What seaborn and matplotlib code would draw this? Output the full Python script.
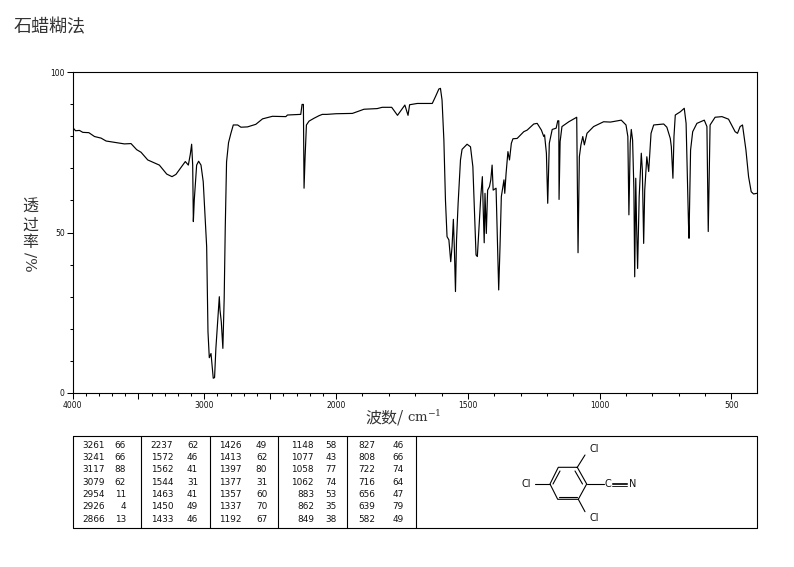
import numpy as np
import seaborn as sns
import matplotlib.pyplot as plt
from matplotlib.ticker import FixedLocator, FixedFormatter

# spectrum
wavenumber = [4000, 3977, 3947, 3922, 3876, 3833, 3783, 3745, 3649, 3606, 3556, 3513, 3480, 3429, 3341, 3285,
              3245, 3215, 3144, 3121, 3106, 3096, 3088, 3083, 3076, 3058, 3043, 3025, 3008, 2995, 2982, 2972,
              2962, 2949, 2939, 2932, 2922, 2912, 2897, 2886, 2881, 2871, 2859, 2849, 2841, 2831, 2816, 2798,
              2780, 2747, 2722, 2672, 2609, 2558, 2483, 2381, 2369, 2268, 2258, 2248, 2243, 2235, 2225, 2205,
              2167, 2129, 2104, 2070, 2000, 1938, 1894, 1844, 1825, 1789, 1767, 1739, 1727, 1721, 1692, 1635,
              1623, 1610, 1604, 1598, 1591, 1585, 1579, 1572, 1565, 1560, 1555, 1551, 1547, 1543, 1537, 1528,
              1522, 1503, 1490, 1481, 1474, 1469, 1464, 1459, 1451, 1445, 1442, 1438, 1435, 1430, 1425, 1418,
              1413, 1408, 1404, 1393, 1388, 1383, 1378, 1373, 1363, 1360, 1355, 1348, 1342, 1335, 1329, 1313,
              1288, 1275, 1250, 1237, 1221, 1212, 1209, 1202, 1197, 1191, 1180, 1165, 1159, 1155, 1154, 1150,
              1143, 1117, 1087, 1082, 1077, 1071, 1064, 1058, 1048, 1023, 985, 959, 918, 900, 893, 889,
              884, 880, 875, 870, 867, 863, 860, 856, 850, 842, 838, 833, 829, 821, 814, 805,
              795, 757, 745, 732, 728, 722, 718, 713, 694, 679, 672, 663, 661, 655, 647, 631,
              603, 593, 588, 581, 562, 536, 511, 486, 477, 467, 458, 445, 435, 425, 416, 404]
transmittance = [82.8, 81.7, 81.8, 81.2, 81.1, 79.9, 79.4, 78.5, 77.9, 77.6, 77.7, 75.8, 75.0, 72.6, 71.0, 68.2,
                 67.4, 68.1, 72.1, 71.0, 74.4, 77.5, 71.0, 53.4, 60.1, 71.0, 72.2, 71.0, 65.8, 55.5, 45.6, 19.1,
                 11.0, 12.3, 7.7, 4.6, 4.8, 13.9, 23.3, 30.0, 25.9, 22.2, 13.9, 29.5, 51.3, 72.0, 78.0, 80.9,
                 83.5, 83.5, 82.8, 82.9, 83.7, 85.4, 86.2, 86.1, 86.6, 86.8, 89.9, 89.9, 63.8, 73.6, 83.5, 84.7,
                 85.6, 86.4, 86.8, 86.8, 87.0, 87.1, 88.4, 88.6, 89.0, 89.0, 86.5, 89.7, 86.5, 89.8, 90.2, 90.2,
                 92.3, 94.7, 94.9, 91.3, 78.8, 60.1, 48.7, 47.7, 40.9, 45.6, 54.1, 44.5, 31.6, 47.7, 59.0, 72.6,
                 75.9, 77.5, 76.7, 70.5, 53.9, 43.0, 42.5, 49.7, 61.2, 67.4, 58.0, 46.8, 62.2, 49.7, 63.2, 64.3,
                 66.4, 71.0, 63.2, 63.8, 47.7, 32.1, 45.6, 61.2, 66.4, 62.2, 68.4, 75.2, 72.6, 77.8, 79.2, 79.3,
                 81.4, 81.9, 83.8, 84.0, 81.9, 79.9, 80.4, 74.7, 59.1, 77.8, 82.1, 82.5, 84.8, 84.8, 60.3, 78.3,
                 83.0, 84.5, 85.9, 43.7, 73.6, 77.3, 79.9, 77.3, 80.9, 83.0, 84.5, 84.4, 85.0, 83.5, 79.9, 55.5,
                 77.8, 82.1, 78.8, 63.2, 36.2, 66.9, 52.9, 38.8, 61.2, 74.7, 69.5, 46.6, 63.2, 73.6, 69.0, 80.9,
                 83.5, 83.8, 82.8, 79.3, 76.7, 66.9, 79.9, 86.6, 87.6, 88.7, 84.0, 52.9, 48.2, 75.7, 81.4, 84.0,
                 85.0, 83.0, 50.3, 83.5, 85.9, 86.1, 85.3, 81.4, 80.9, 83.0, 83.5, 75.7, 67.4, 62.7, 62.0, 62.2]

# peak table, one list per column block
peak_wn = [[3261, 3241, 3117, 3079, 2954, 2926, 2866],
           [2237, 1572, 1562, 1544, 1463, 1450, 1433],
           [1426, 1413, 1397, 1377, 1357, 1337, 1192],
           [1148, 1077, 1058, 1062, 883, 862, 849],
           [827, 808, 722, 716, 656, 639, 582]]
peak_t = [[66, 66, 88, 62, 11, 4, 13],
          [62, 46, 41, 31, 41, 49, 46],
          [49, 62, 80, 31, 60, 70, 67],
          [58, 43, 77, 74, 53, 35, 38],
          [46, 66, 74, 64, 47, 79, 49]]

major_ticks = [4000, 3500, 3000, 2500, 2000, 1500, 1000, 500]
major_labels = ["4000", "", "3000", "", "2000", "1500", "1000", "500"]
minor_ticks = list(range(500, 4000, 100))
y_major = [0, 50, 100]
y_minor = [10, 20, 30, 40, 60, 70, 80, 90]

W, H = 794, 567
CJK = ["Noto Sans CJK SC", "DejaVu Sans"]

sns.set_theme(style="ticks")
plt.rcParams["font.family"] = CJK
plt.rcParams["mathtext.fontset"] = "dejavuserif"
ink = "#111111"


# the instrument doubles its scale below 2000 cm-1
def forward(x):
    x = np.asarray(x, dtype=float)
    return np.where(x <= 2000, x, 2000 + (x - 2000) / 2)


def inverse(x):
    x = np.asarray(x, dtype=float)
    return np.where(x <= 2000, x, 2000 + (x - 2000) * 2)


fig = plt.figure(figsize=(W / 100, H / 100), dpi=100, facecolor="white")
ax = fig.add_axes([72.5 / W, 1 - 393 / H, 684.5 / W, 321 / H])

sns.lineplot(x=wavenumber, y=transmittance, sort=False, estimator=None,
             color="black", linewidth=0.85, ax=ax)

ax.set_xscale("function", functions=(forward, inverse))
ax.set_xlim(4000, 403)
ax.set_ylim(0, 100)
ax.xaxis.set_major_locator(FixedLocator(major_ticks))
ax.xaxis.set_major_formatter(FixedFormatter(major_labels))
ax.xaxis.set_minor_locator(FixedLocator(minor_ticks))
ax.yaxis.set_major_locator(FixedLocator(y_major))
ax.yaxis.set_minor_locator(FixedLocator(y_minor))
ax.tick_params(which="major", length=4, width=0.75, labelsize=5.5, pad=1.5, color="black", labelcolor=ink)
ax.tick_params(which="minor", length=2, width=0.75, color="black")
for lab in ax.get_xticklabels() + ax.get_yticklabels():
    lab.set_family("DejaVu Sans")
for spine in ax.spines.values():
    spine.set_visible(True)
    spine.set_linewidth(0.8)
    spine.set_color("black")

# overlay in pixel coordinates for labels, table and structure
ov = fig.add_axes([0, 0, 1, 1], facecolor="none")
ov.set_xlim(0, W)
ov.set_ylim(H, 0)
ov.axis("off")

ov.text(14, 27, "石蜡糊法", fontsize=13, color="#333333", va="center", ha="left")
ov.text(365, 418, "波数/", fontsize=11.5, color="#333333", va="center", ha="left")
ov.text(407, 417, "cm$^{-1}$", fontsize=9.5, family="DejaVu Serif", color="#333333", va="center", ha="left")
for ch, py in zip("透过率", [207, 225, 243]):
    ov.text(30, py, ch, fontsize=11.5, color="#333333", va="center", ha="center")
ov.text(30, 262, "/%", fontsize=11, family="DejaVu Serif", rotation=270, color="#333333", va="center", ha="center")

# peak table frame
left, right, top, bottom = 72.5, 757, 436, 528
ov.plot([left, right, right, left, left], [top, top, bottom, bottom, top], color="black", lw=0.8)
col_x = [72.5, 141.3, 209.7, 278, 346.7, 415.7]
for cx in col_x[1:]:
    ov.plot([cx, cx], [top, bottom], color="black", lw=0.8)
row_y = [445, 457.4, 469.8, 482.2, 494.3, 506.5, 519]
wn_off = [32.5, 32, 32, 36, 28.5]
t_off = [53.5, 57, 57.5, 58.7, 56.7]
for c in range(5):
    for r in range(7):
        ov.text(col_x[c] + wn_off[c], row_y[r], str(peak_wn[c][r]), fontsize=6.4, family="DejaVu Sans",
                ha="right", va="center", color=ink)
        ov.text(col_x[c] + t_off[c], row_y[r], str(peak_t[c][r]), fontsize=6.4, family="DejaVu Sans",
                ha="right", va="center", color=ink)

# 2,4,6-trichlorobenzonitrile
ring_x = [577.3, 586.7, 578.3, 557.7, 550, 558.3, 577.3]
ring_y = [467.3, 484, 499.3, 499.3, 484, 467.3, 467.3]
ov.plot(ring_x, ring_y, color="black", lw=0.8)
ov.plot([575, 582.5], [471, 484], color="black", lw=0.8)
ov.plot([559, 577], [496.5, 496.5], color="black", lw=0.8)
ov.plot([553, 560], [484, 471], color="black", lw=0.8)
ov.plot([577.3, 585], [467.3, 455], color="black", lw=0.8)
ov.plot([578.3, 585], [499.3, 511.7], color="black", lw=0.8)
ov.plot([550, 535], [484, 484], color="black", lw=0.8)
ov.plot([586.7, 604], [484, 484], color="black", lw=0.8)
for dy in (-1.5, 0, 1.5):
    ov.plot([612, 627], [484 + dy, 484 + dy], color="black", lw=0.6)
for tx, ty, s in [(594, 449, "Cl"), (594, 518, "Cl"), (526, 484, "Cl"), (608, 484, "C"), (633, 484, "N")]:
    ov.text(tx, ty, s, fontsize=7, family="DejaVu Sans", ha="center", va="center", color=ink)

fig.savefig("out.png", dpi=100)
